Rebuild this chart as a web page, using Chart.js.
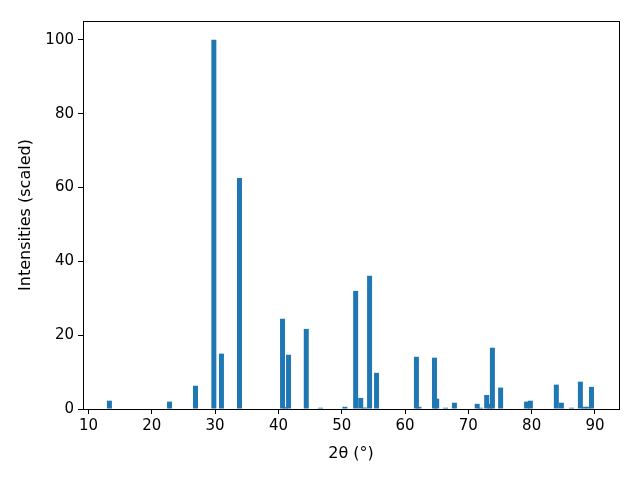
<!DOCTYPE html>
<html>
<head>
<meta charset="utf-8">
<script src="https://cdn.jsdelivr.net/npm/chart.js@4"></script>
<style>
  html, body { margin: 0; padding: 0; background: #fff; }
</style>
</head>
<body>
<canvas id="xrd" width="640" height="480"></canvas>
<script>
const twoTheta = [13.3, 22.8, 26.9, 29.8, 31.0, 33.85, 40.65, 41.1, 41.6, 44.4, 46.65, 50.5,
  52.2, 53.0, 53.6, 54.4, 55.5, 61.8, 62.2, 64.65, 65.0, 66.4, 67.8, 71.4, 71.9, 72.9, 73.4,
  73.8, 75.1, 79.2, 79.8, 83.9, 84.7, 86.3, 87.7, 88.3, 88.9, 89.45];
const intensity = [2.25, 2.0, 6.3, 100, 15.0, 62.6, 24.45, 0.5, 14.7, 21.7, 0.35, 0.6,
  32.0, 3.0, 0.4, 36.1, 9.8, 14.15, 0.6, 13.9, 2.8, 0.35, 1.7, 1.4, 0.35, 3.8, 1.4,
  16.6, 5.8, 2.0, 2.25, 6.6, 1.7, 0.35, 7.4, 0.6, 0.6, 6.0];
const xTicks = [10, 20, 30, 40, 50, 60, 70, 80, 90];
const yTicks = [0, 20, 40, 60, 80, 100];

const points = twoTheta.map((t, i) => ({ x: t, y: intensity[i] }));

const frame = {
  id: "frame",
  afterDraw(chart) {
    const { ctx, chartArea: a } = chart;
    ctx.save();
    ctx.strokeStyle = "#000";
    ctx.lineWidth = 1;
    ctx.strokeRect(a.left + 0.5, a.top + 0.5, a.right - a.left, a.bottom - a.top);
    ctx.restore();
  },
};

const tickFont = { family: "DejaVu Sans", size: 15 };
const titleFont = { family: "DejaVu Sans", size: 16 };

const ctx = document.getElementById("xrd").getContext("2d");
const xrdChart = new Chart(ctx, {
  type: "bar",
  data: {
    datasets: [
      {
        data: points,
        backgroundColor: "#1f77b4",
        barThickness: 5,
        borderWidth: 0,
        inflateAmount: 0,
      },
    ],
  },
  options: {
    responsive: false,
    animation: false,
    layout: { padding: { top: 21, right: 21, left: 0, bottom: 0 } },
    plugins: { legend: { display: false }, tooltip: { enabled: false } },
    scales: {
      x: {
        type: "linear",
        offset: false,
        min: 9.13,
        max: 93.8,
        afterBuildTicks: (s) => { s.ticks = xTicks.map((v) => ({ value: v })); },
        afterFit: (s) => { s.height = 71; },
        ticks: { color: "#000", font: tickFont, padding: 3, maxRotation: 0 },
        grid: { offset: false, drawOnChartArea: false, tickLength: 5, tickColor: "#000" },
        border: { color: "#000" },
        title: { display: true, text: "2θ (°)", color: "#000", font: titleFont, padding: { top: 17, bottom: 17 } },
      },
      y: {
        min: 0,
        max: 105.1,
        afterBuildTicks: (s) => { s.ticks = yTicks.map((v) => ({ value: v })); },
        afterFit: (s) => { s.width = 83; },
        ticks: { color: "#000", font: tickFont, padding: 4 },
        grid: { drawOnChartArea: false, tickLength: 5, tickColor: "#000" },
        border: { color: "#000" },
        title: { display: true, text: "Intensities (scaled)", color: "#000", font: titleFont, padding: { top: 16, bottom: 16 } },
      },
    },
  },
  plugins: [frame],
});
</script>
</body>
</html>
